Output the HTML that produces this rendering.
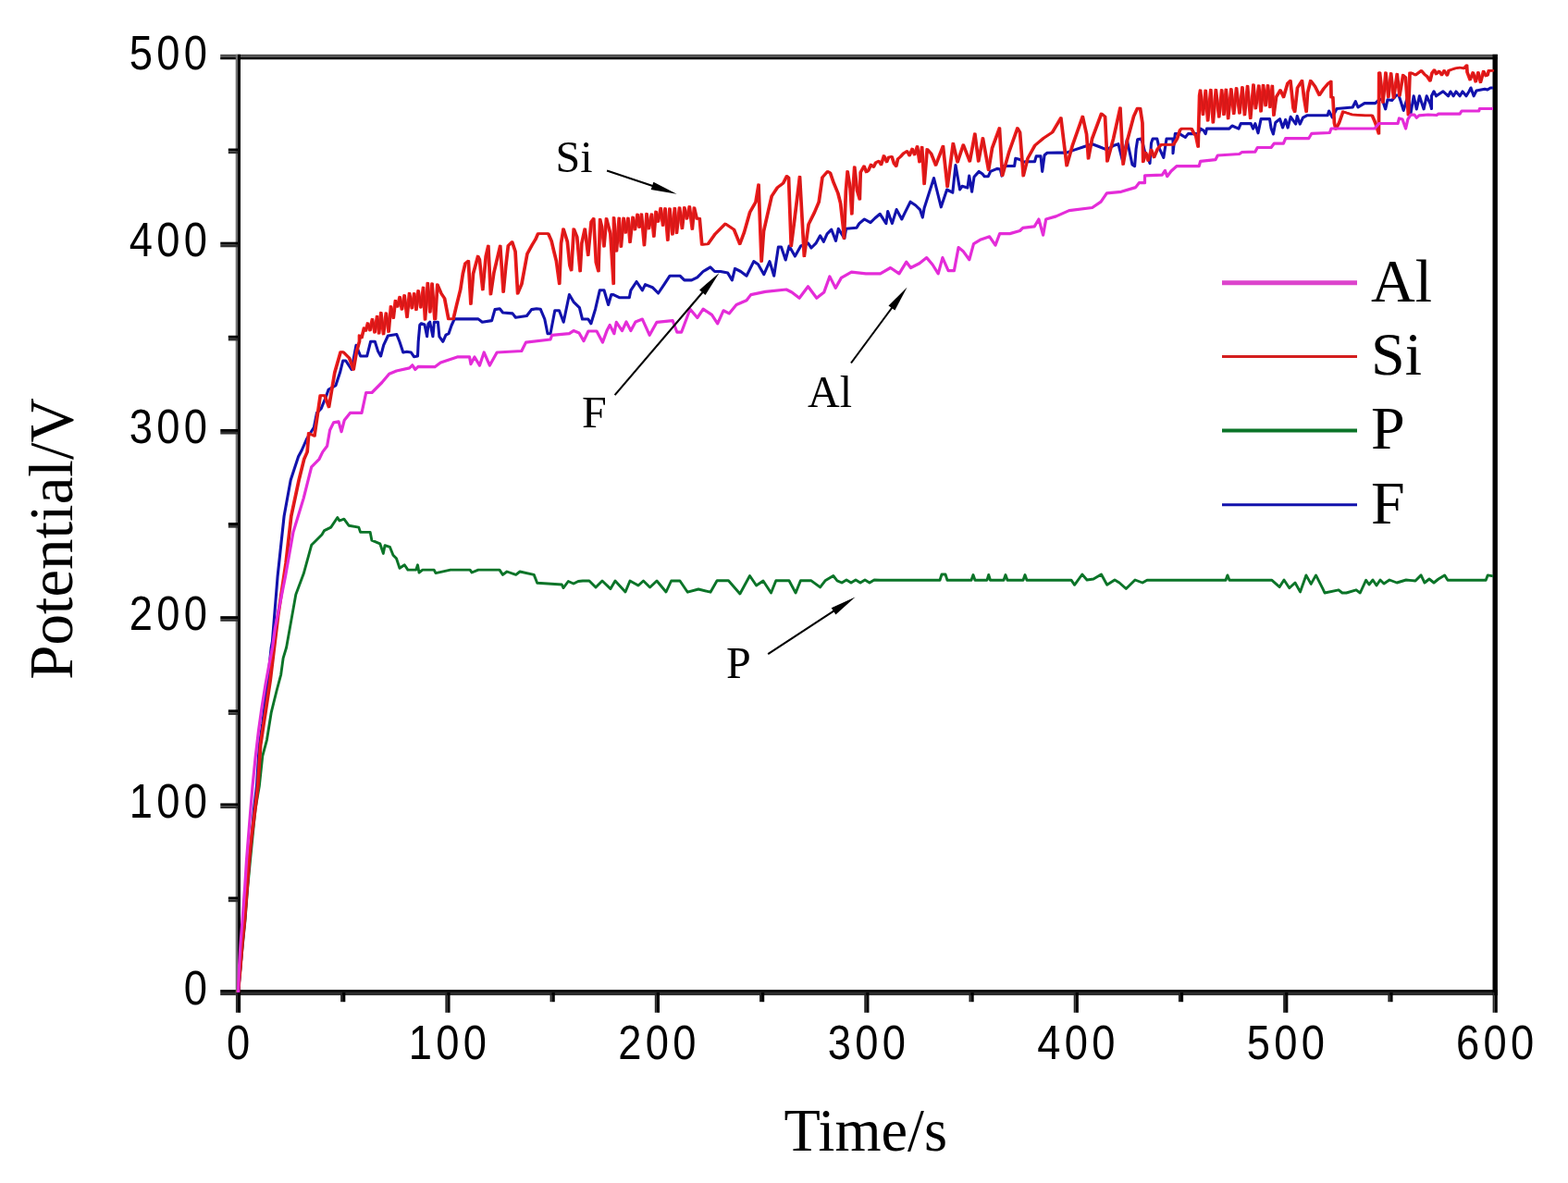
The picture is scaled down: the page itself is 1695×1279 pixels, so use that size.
<!DOCTYPE html>
<html><head><meta charset="utf-8"><title>Potential vs Time</title>
<style>
html,body{margin:0;padding:0;background:#fff;}
body{width:1695px;height:1279px;overflow:hidden;}
svg{display:block;position:absolute;left:0;top:0;}
</style></head><body>
<svg width="1695" height="1279" viewBox="0 0 1695 1279"><rect x="238.20" y="58.80" width="1380.70" height="2.90" fill="#505050"/><rect x="238.20" y="61.70" width="1380.70" height="2.60" fill="#000"/><rect x="238.20" y="1070.10" width="1380.70" height="2.80" fill="#000"/><rect x="238.20" y="1072.90" width="1380.70" height="3.20" fill="#2c2c2c"/><rect x="254.70" y="58.80" width="2.35" height="1017.30" fill="#707070"/><rect x="257.05" y="58.80" width="2.95" height="1017.30" fill="#000"/><rect x="1613.50" y="58.80" width="5.40" height="1017.30" fill="#000"/><rect x="246.80" y="969.57" width="10.25" height="3.00" fill="#000"/><rect x="246.80" y="972.57" width="10.25" height="2.60" fill="#303030"/><rect x="238.30" y="868.44" width="18.75" height="3.00" fill="#000"/><rect x="238.30" y="871.44" width="18.75" height="2.60" fill="#303030"/><rect x="246.80" y="767.31" width="10.25" height="3.00" fill="#000"/><rect x="246.80" y="770.31" width="10.25" height="2.60" fill="#303030"/><rect x="238.30" y="666.18" width="18.75" height="3.00" fill="#000"/><rect x="238.30" y="669.18" width="18.75" height="2.60" fill="#303030"/><rect x="246.80" y="565.05" width="10.25" height="3.00" fill="#000"/><rect x="246.80" y="568.05" width="10.25" height="2.60" fill="#303030"/><rect x="238.30" y="463.92" width="18.75" height="3.00" fill="#000"/><rect x="238.30" y="466.92" width="18.75" height="2.60" fill="#303030"/><rect x="246.80" y="362.79" width="10.25" height="3.00" fill="#000"/><rect x="246.80" y="365.79" width="10.25" height="2.60" fill="#303030"/><rect x="238.30" y="261.66" width="18.75" height="3.00" fill="#000"/><rect x="238.30" y="264.66" width="18.75" height="2.60" fill="#303030"/><rect x="246.80" y="160.53" width="10.25" height="3.00" fill="#000"/><rect x="246.80" y="163.53" width="10.25" height="2.60" fill="#303030"/><rect x="254.90" y="1072.90" width="2.00" height="21.90" fill="#262626"/><rect x="256.90" y="1072.90" width="3.20" height="21.90" fill="#000"/><rect x="368.12" y="1072.90" width="2.00" height="10.30" fill="#262626"/><rect x="370.12" y="1072.90" width="3.20" height="10.30" fill="#000"/><rect x="481.35" y="1072.90" width="2.00" height="21.90" fill="#262626"/><rect x="483.35" y="1072.90" width="3.20" height="21.90" fill="#000"/><rect x="594.57" y="1072.90" width="2.00" height="10.30" fill="#262626"/><rect x="596.57" y="1072.90" width="3.20" height="10.30" fill="#000"/><rect x="707.80" y="1072.90" width="2.00" height="21.90" fill="#262626"/><rect x="709.80" y="1072.90" width="3.20" height="21.90" fill="#000"/><rect x="821.02" y="1072.90" width="2.00" height="10.30" fill="#262626"/><rect x="823.02" y="1072.90" width="3.20" height="10.30" fill="#000"/><rect x="934.25" y="1072.90" width="2.00" height="21.90" fill="#262626"/><rect x="936.25" y="1072.90" width="3.20" height="21.90" fill="#000"/><rect x="1047.48" y="1072.90" width="2.00" height="10.30" fill="#262626"/><rect x="1049.48" y="1072.90" width="3.20" height="10.30" fill="#000"/><rect x="1160.70" y="1072.90" width="2.00" height="21.90" fill="#262626"/><rect x="1162.70" y="1072.90" width="3.20" height="21.90" fill="#000"/><rect x="1273.93" y="1072.90" width="2.00" height="10.30" fill="#262626"/><rect x="1275.93" y="1072.90" width="3.20" height="10.30" fill="#000"/><rect x="1387.15" y="1072.90" width="2.00" height="21.90" fill="#262626"/><rect x="1389.15" y="1072.90" width="3.20" height="21.90" fill="#000"/><rect x="1500.38" y="1072.90" width="2.00" height="10.30" fill="#262626"/><rect x="1502.38" y="1072.90" width="3.20" height="10.30" fill="#000"/><rect x="1613.60" y="1072.90" width="2.00" height="21.90" fill="#262626"/><rect x="1615.60" y="1072.90" width="3.20" height="21.90" fill="#000"/>
<path d="M257.5 1073.0 L260.0 1045.0 L262.5 1020.0 L265.0 995.0 L267.5 962.0 L270.5 930.0 L273.0 905.0 L276.0 875.0 L280.3 850.0 L283.8 817.4 L288.5 799.8 L293.2 770.4 L299.0 747.0 L303.7 729.3 L306.1 711.7 L309.6 700.0 L319.8 642.8 L328.2 620.3 L336.7 589.3 L340.0 586.0 L348.0 578.0 L350.6 573.6 L357.7 570.1 L364.8 559.5 L367.0 563.0 L371.9 561.2 L377.2 568.3 L387.8 570.1 L389.6 575.4 L400.2 575.4 L401.9 584.2 L410.8 587.8 L414.3 598.4 L416.1 589.6 L421.4 591.3 L425.0 600.2 L428.5 603.7 L432.0 614.3 L437.3 610.8 L440.9 616.1 L449.7 616.1 L451.5 610.8 L453.0 619.0 L456.8 616.1 L469.2 616.1 L471.0 619.6 L486.9 616.1 L508.1 616.1 L510.0 619.0 L517.0 616.1 L540.0 616.1 L543.5 621.4 L548.0 618.0 L557.7 621.4 L562.0 618.0 L577.2 621.4 L580.7 630.3 L607.3 632.0 L609.0 635.6 L614.3 628.5 L620.0 631.0 L625.0 628.5 L630.0 628.0 L637.0 628.0 L644.0 635.0 L651.0 628.0 L660.0 636.6 L665.0 628.0 L676.0 640.0 L681.0 628.0 L690.0 633.0 L695.5 628.0 L702.6 635.0 L710.0 628.0 L720.0 640.0 L725.6 628.0 L735.0 628.0 L743.3 640.2 L755.0 637.0 L768.0 640.2 L775.1 627.8 L787.5 627.8 L799.9 642.0 L810.5 622.5 L817.6 633.0 L825.0 628.0 L833.5 641.0 L838.8 627.8 L853.0 627.8 L860.1 641.0 L865.4 627.8 L877.0 627.8 L886.6 634.9 L892.0 627.8 L900.8 622.5 L905.0 627.8 L910.0 630.0 L915.0 627.0 L920.0 630.0 L925.0 627.0 L930.0 630.0 L935.0 627.0 L940.0 630.0 L945.0 627.0 L951.6 627.2 L1016.0 627.2 L1018.0 621.0 L1022.0 621.0 L1024.0 627.2 L1050.0 627.2 L1052.0 621.5 L1054.0 627.2 L1067.0 627.2 L1068.7 621.5 L1070.5 627.2 L1085.0 627.2 L1087.0 621.5 L1089.0 627.2 L1106.0 627.2 L1108.0 621.5 L1110.0 627.2 L1158.0 627.2 L1161.6 632.3 L1169.8 621.0 L1175.0 627.0 L1182.0 626.0 L1190.5 621.0 L1196.7 632.3 L1205.0 627.0 L1210.0 630.0 L1217.3 636.5 L1227.0 627.0 L1235.0 630.0 L1240.0 627.2 L1325.0 627.2 L1326.9 621.9 L1329.0 627.2 L1374.7 627.2 L1383.2 634.6 L1388.0 627.0 L1393.8 635.7 L1400.0 630.0 L1405.5 639.9 L1411.9 621.9 L1417.2 631.4 L1422.5 621.9 L1430.0 636.7 L1432.0 641.0 L1447.0 637.8 L1451.0 641.0 L1455.4 641.0 L1466.0 637.8 L1470.3 641.0 L1476.7 627.2 L1480.0 632.0 L1484.0 627.0 L1488.0 633.0 L1492.0 627.0 L1496.0 631.0 L1502.0 627.0 L1510.0 630.0 L1520.0 627.0 L1530.0 628.0 L1536.1 621.9 L1540.0 630.0 L1545.0 626.0 L1550.0 630.0 L1555.0 626.0 L1561.6 621.9 L1565.0 627.2 L1606.2 627.2 L1608.3 621.9 L1614.0 622.9" fill="none" stroke="#0b7428" stroke-width="2.9" stroke-linejoin="round"/>
<path d="M257.5 1073.0 L260.0 1045.0 L262.0 1020.0 L264.5 995.0 L267.0 962.0 L269.5 930.0 L272.0 905.0 L274.5 875.0 L277.5 850.0 L280.3 805.6 L283.8 782.2 L287.3 752.8 L290.2 729.3 L293.2 700.0 L294.4 693.5 L300.1 623.0 L307.1 558.0 L314.2 519.0 L322.6 493.5 L326.1 487.0 L331.6 474.5 L339.4 462.0 L342.5 446.4 L347.2 441.7 L352.0 430.0 L355.0 421.4 L362.9 416.7 L367.6 402.6 L370.7 390.0 L373.8 390.0 L380.0 399.5 L385.0 373.2 L389.7 385.0 L396.7 385.0 L400.6 369.3 L405.3 369.3 L408.5 379.4 L411.6 385.0 L414.7 373.2 L419.4 363.0 L428.8 361.5 L431.9 369.3 L435.8 381.0 L439.7 380.2 L444.4 381.0 L447.5 385.7 L451.5 385.0 L452.2 369.3 L453.8 351.3 L455.4 349.7 L459.0 351.0 L461.6 363.8 L463.0 350.0 L464.7 348.2 L467.9 363.8 L469.4 348.2 L473.4 348.2 L474.9 363.8 L478.8 369.3 L482.0 362.2 L485.0 360.7 L488.0 352.0 L491.2 344.9 L500.6 344.9 L517.0 344.9 L521.3 348.3 L531.6 346.6 L535.0 334.6 L540.2 333.7 L543.6 338.0 L554.0 338.9 L557.4 343.2 L569.4 341.5 L574.6 334.6 L580.0 333.7 L584.2 334.2 L588.8 345.0 L592.0 360.7 L595.0 360.7 L599.8 335.7 L604.5 335.7 L609.2 348.2 L615.4 318.5 L620.0 326.3 L626.4 332.6 L629.5 345.0 L635.8 345.0 L638.9 349.8 L643.6 334.2 L648.3 313.8 L653.0 313.8 L657.6 329.5 L660.8 318.5 L663.1 318.6 L669.4 321.7 L680.3 321.7 L681.9 313.9 L688.1 304.5 L694.4 313.9 L697.5 307.6 L705.3 310.7 L711.6 317.0 L717.9 307.6 L724.1 298.2 L735.0 298.2 L739.8 302.9 L747.6 302.9 L753.8 299.8 L760.1 293.5 L767.9 288.8 L772.6 293.5 L778.8 293.5 L786.7 295.1 L791.4 302.9 L794.5 290.4 L800.7 293.5 L807.0 298.2 L814.8 282.6 L819.5 285.7 L825.8 296.7 L832.0 282.6 L836.7 298.2 L841.4 267.0 L844.5 267.0 L849.2 281.0 L853.1 266.0 L859.4 277.0 L865.6 266.0 L873.5 262.9 L877.0 268.0 L881.9 263.2 L886.6 254.8 L890.3 261.3 L894.1 252.9 L898.8 248.2 L903.5 260.4 L906.3 247.3 L912.8 257.6 L914.7 247.3 L926.0 246.3 L928.8 241.6 L934.4 237.0 L941.0 240.7 L945.7 236.0 L951.3 231.3 L957.9 241.6 L959.7 228.5 L964.4 241.6 L969.1 226.6 L974.8 237.0 L978.5 229.4 L984.1 218.2 L989.8 222.0 L994.5 226.6 L997.3 235.1 L999.1 225.0 L1009.5 192.5 L1017.3 223.8 L1023.6 205.0 L1029.8 208.2 L1033.0 178.5 L1037.6 205.0 L1040.0 201.3 L1045.9 203.1 L1047.7 190.1 L1050.6 207.2 L1053.0 191.3 L1058.3 185.4 L1062.0 188.0 L1064.2 190.7 L1068.3 190.7 L1070.7 185.4 L1077.8 182.4 L1081.3 183.0 L1083.0 190.1 L1084.8 179.5 L1096.6 179.5 L1097.8 171.2 L1102.5 172.4 L1106.1 175.4 L1108.4 174.8 L1118.5 174.8 L1120.2 168.9 L1125.0 168.9 L1126.7 185.4 L1129.1 167.7 L1132.0 165.3 L1143.2 165.1 L1152.6 165.1 L1162.0 161.9 L1171.4 158.8 L1180.7 155.7 L1188.6 158.8 L1196.4 161.9 L1204.2 157.2 L1208.9 155.7 L1213.6 174.4 L1218.3 151.0 L1224.0 178.0 L1226.6 179.7 L1228.1 161.0 L1229.7 150.8 L1233.6 150.0 L1235.2 154.7 L1237.5 164.1 L1240.0 168.0 L1243.0 176.6 L1244.5 154.7 L1246.1 150.0 L1250.8 150.0 L1253.1 160.2 L1257.8 170.4 L1261.0 150.0 L1268.0 150.0 L1268.0 165.7 L1270.3 144.6 L1275.0 144.6 L1281.3 148.5 L1284.4 144.6 L1295.4 144.6 L1297.7 139.1 L1301.0 141.0 L1303.2 144.6 L1304.5 139.1 L1328.8 139.1 L1331.9 136.0 L1339.0 139.1 L1341.3 133.6 L1352.2 133.6 L1354.6 139.1 L1356.9 133.6 L1360.0 143.8 L1363.1 128.6 L1372.5 128.6 L1374.1 138.8 L1376.4 145.0 L1378.8 132.5 L1383.5 128.6 L1386.6 138.0 L1389.7 129.4 L1392.1 138.0 L1395.2 126.3 L1400.7 134.1 L1402.2 125.5 L1405.3 134.1 L1408.5 127.1 L1413.2 124.7 L1435.1 124.7 L1436.6 120.0 L1440.3 126.9 L1445.0 117.5 L1462.2 116.0 L1465.3 109.7 L1468.0 116.0 L1475.0 111.6 L1486.7 111.6 L1489.9 108.5 L1494.0 107.0 L1497.7 117.9 L1500.0 107.7 L1504.7 108.5 L1509.4 103.0 L1512.0 103.0 L1514.1 109.3 L1517.2 119.4 L1521.9 103.8 L1525.0 122.5 L1528.2 103.8 L1531.3 117.9 L1534.4 103.8 L1539.1 117.9 L1542.2 103.8 L1546.0 112.0 L1547.5 117.5 L1547.5 103.8 L1550.0 98.8 L1552.5 103.8 L1560.0 98.8 L1565.6 103.8 L1568.0 99.0 L1571.2 103.8 L1574.0 99.0 L1578.1 103.8 L1581.0 99.0 L1585.0 103.8 L1588.1 98.8 L1590.0 95.0 L1593.1 103.8 L1596.0 98.0 L1605.0 96.2 L1608.0 97.0 L1611.2 95.0 L1614.0 95.0" fill="none" stroke="#1212ac" stroke-width="3.1" stroke-linejoin="round"/>
<path d="M256.9 1073.0 L259.4 1045.0 L261.4 1020.0 L263.9 995.0 L266.4 962.0 L268.9 930.0 L271.4 905.0 L275.3 875.0 L278.3 850.0 L281.1 805.6 L284.6 782.2 L286.5 770.0 L291.6 735.8 L291.6 735.8 L300.1 665.4 L308.5 609.0 L314.2 558.3 L322.6 518.9 L328.2 496.3 L331.6 488.6 L333.2 468.3 L339.4 471.4 L345.7 427.6 L350.4 427.6 L355.0 440.0 L361.3 402.6 L367.6 380.7 L370.7 380.7 L377.0 387.0 L381.6 399.5 L384.8 380.7 L388.0 369.0 L388.0 362.7 L390.4 365.2 L393.0 354.5 L394.9 357.5 L397.0 349.5 L399.4 357.2 L401.9 345.2 L404.5 359.4 L407.1 342.0 L409.1 360.3 L411.3 338.1 L414.0 361.2 L416.8 338.6 L419.6 358.7 L422.0 331.4 L424.7 343.8 L426.9 325.1 L429.2 331.5 L431.6 321.1 L433.9 334.5 L436.6 319.4 L439.5 342.8 L442.0 317.1 L444.8 333.2 L447.2 317.3 L449.4 334.8 L451.6 314.4 L454.3 332.3 L457.0 310.9 L459.0 345.4 L461.8 306.0 L464.3 337.3 L466.5 306.6 L469.4 345.1 L470.0 345.0 L472.3 307.6 L476.3 317.0 L480.0 322.5 L484.3 344.9 L489.5 344.9 L493.0 330.0 L497.2 313.1 L499.8 295.9 L502.4 284.7 L505.8 282.1 L508.4 328.6 L511.0 295.9 L516.1 277.0 L517.8 280.4 L521.3 313.1 L524.7 277.0 L527.3 265.8 L529.9 318.2 L533.3 295.0 L540.2 265.8 L543.6 315.7 L546.2 288.2 L548.8 265.8 L553.1 261.5 L556.5 271.8 L559.1 317.4 L563.4 307.1 L569.4 274.4 L574.6 264.9 L578.4 258.7 L581.0 252.7 L592.2 252.7 L595.6 260.4 L598.2 271.6 L600.8 281.9 L604.2 306.8 L606.0 263.0 L608.5 247.5 L612.8 261.3 L615.4 287.1 L617.1 292.2 L619.7 247.5 L623.2 256.1 L626.6 293.1 L628.3 263.0 L631.7 247.5 L635.2 275.9 L638.6 239.8 L641.2 236.3 L643.8 283.6 L646.4 293.1 L648.1 237.2 L650.0 245.0 L652.4 266.4 L655.0 236.3 L659.3 252.7 L662.7 306.8 L663.0 235.4 L665.9 271.4 L668.7 235.8 L670.8 266.6 L673.6 235.8 L675.8 251.5 L678.4 235.9 L680.5 261.8 L683.5 234.9 L685.8 248.2 L688.5 231.9 L690.6 245.7 L692.9 231.6 L695.9 265.2 L698.5 231.1 L700.8 247.2 L703.9 231.5 L706.3 255.6 L708.5 228.8 L710.9 239.6 L713.7 225.1 L716.1 243.7 L718.5 225.4 L721.3 259.6 L723.4 225.7 L726.4 253.4 L728.8 225.0 L730.9 251.9 L734.0 224.5 L736.9 247.0 L739.3 224.4 L741.9 236.4 L744.8 223.4 L747.8 247.6 L749.9 224.6 L752.7 236.4 L755.7 236.1 L758.2 264.3 L764.8 263.8 L772.6 252.9 L783.5 241.9 L792.9 248.2 L799.2 263.8 L803.9 251.3 L810.1 229.4 L816.4 218.5 L819.5 199.7 L822.6 282.6 L825.0 250.0 L833.6 212.2 L839.8 202.8 L846.1 198.1 L850.0 190.3 L852.0 192.0 L854.7 266.0 L858.0 240.0 L864.0 191.0 L868.8 277.0 L873.5 242.6 L880.0 229.4 L884.7 218.2 L888.4 191.9 L894.1 185.3 L897.0 187.0 L900.6 197.5 L905.3 208.8 L908.1 220.0 L911.0 246.3 L911.9 257.6 L913.8 206.9 L915.6 185.3 L918.5 203.2 L920.3 231.3 L921.5 205.0 L923.2 180.6 L926.0 206.0 L928.8 215.4 L929.7 186.3 L933.5 179.7 L936.0 186.0 L938.2 184.4 L941.0 178.0 L943.8 180.6 L946.0 176.0 L949.4 174.1 L952.0 178.0 L955.0 168.5 L958.0 175.0 L960.0 170.0 L963.5 169.4 L966.0 177.0 L968.2 179.7 L970.0 172.0 L972.9 169.4 L976.0 166.0 L979.4 163.8 L980.0 163.4 L982.6 168.2 L985.6 161.0 L988.1 167.2 L991.0 158.3 L993.5 175.2 L996.1 159.0 L998.6 198.8 L1001.7 161.3 L1006.0 166.0 L1011.0 178.5 L1018.9 158.1 L1023.6 201.9 L1029.8 155.0 L1034.5 175.3 L1040.8 156.6 L1047.8 174.4 L1053.3 144.7 L1057.2 174.4 L1061.9 149.4 L1068.1 183.8 L1072.0 160.0 L1079.9 138.5 L1083.0 190.0 L1090.0 165.0 L1099.4 138.5 L1102.0 143.0 L1105.7 190.1 L1110.4 171.3 L1118.2 157.2 L1127.6 149.4 L1137.0 143.2 L1146.3 127.5 L1152.6 179.1 L1158.8 157.2 L1169.8 126.0 L1174.0 145.0 L1176.0 171.3 L1180.0 150.0 L1190.1 122.8 L1194.0 126.0 L1196.4 174.4 L1203.0 150.0 L1210.4 116.6 L1213.6 177.6 L1218.0 152.0 L1225.0 125.8 L1228.9 117.2 L1232.0 117.2 L1234.4 132.8 L1235.2 175.0 L1238.0 165.0 L1240.6 173.5 L1244.0 162.0 L1247.0 170.0 L1250.8 161.0 L1254.7 156.3 L1268.0 156.3 L1272.0 150.0 L1275.0 140.7 L1276.6 139.1 L1287.5 139.1 L1289.9 143.8 L1292.2 146.9 L1294.6 158.6 L1296.1 103.1 L1297.0 97.7 L1299.9 123.9 L1302.7 97.9 L1305.1 130.3 L1308.3 97.2 L1310.8 132.3 L1313.8 97.2 L1317.2 126.3 L1320.1 97.3 L1322.4 124.0 L1324.8 96.8 L1327.1 128.1 L1330.3 96.4 L1333.2 122.8 L1336.0 95.3 L1339.4 122.4 L1342.4 94.3 L1344.9 124.2 L1348.0 93.1 L1351.2 128.0 L1354.4 91.7 L1356.8 117.2 L1360.2 92.7 L1362.5 120.3 L1365.0 92.2 L1367.6 114.2 L1370.0 92.4 L1372.4 115.8 L1374.8 92.9 L1376.4 124.7 L1379.0 105.0 L1383.5 97.4 L1387.0 105.0 L1391.3 90.3 L1394.4 87.2 L1397.5 116.9 L1399.1 120.8 L1402.0 95.0 L1406.9 87.2 L1409.0 105.0 L1411.6 120.8 L1413.0 100.0 L1416.3 87.2 L1421.0 93.5 L1425.7 102.8 L1430.4 95.8 L1435.1 90.3 L1438.2 88.0 L1438.5 105.2 L1440.3 105.0 L1441.9 133.2 L1443.5 139.4 L1447.0 133.0 L1451.3 120.7 L1460.7 123.8 L1475.0 124.9 L1482.8 124.9 L1485.2 130.4 L1486.7 134.3 L1489.9 144.4 L1490.2 78.8 L1491.0 78.6 L1494.5 110.6 L1497.4 78.7 L1500.3 105.0 L1503.1 79.4 L1506.0 105.8 L1509.7 80.1 L1512.4 103.4 L1516.2 81.2 L1518.8 83.5 L1521.9 124.1 L1523.5 78.8 L1525.0 78.8 L1529.7 81.1 L1536.0 76.4 L1539.0 80.0 L1542.2 82.7 L1545.4 87.4 L1547.5 78.8 L1550.0 75.6 L1552.0 80.0 L1555.0 77.0 L1558.0 81.0 L1560.6 76.3 L1563.8 81.3 L1565.6 76.3 L1573.1 73.8 L1578.0 73.0 L1582.0 74.0 L1585.0 70.6 L1585.5 78.1 L1588.6 86.2 L1591.7 78.4 L1594.7 88.3 L1597.4 78.4 L1599.9 88.9 L1603.1 77.1 L1605.8 82.0 L1607.5 81.3 L1608.8 76.3 L1613.8 76.3" fill="none" stroke="#f41c1c" stroke-width="2.7" stroke-linejoin="round"/>
<path transform="translate(1.3 0)" d="M256.9 1073.0 L259.4 1045.0 L261.4 1020.0 L263.9 995.0 L266.4 962.0 L268.9 930.0 L271.4 905.0 L275.3 875.0 L278.3 850.0 L281.1 805.6 L284.6 782.2 L286.5 770.0 L291.6 735.8 L291.6 735.8 L300.1 665.4 L308.5 609.0 L314.2 558.3 L322.6 518.9 L328.2 496.3 L331.6 488.6 L333.2 468.3 L339.4 471.4 L345.7 427.6 L350.4 427.6 L355.0 440.0 L361.3 402.6 L367.6 380.7 L370.7 380.7 L377.0 387.0 L381.6 399.5 L384.8 380.7 L388.0 369.0 L388.0 362.7 L390.4 365.2 L393.0 354.5 L394.9 357.5 L397.0 349.5 L399.4 357.2 L401.9 345.2 L404.5 359.4 L407.1 342.0 L409.1 360.3 L411.3 338.1 L414.0 361.2 L416.8 338.6 L419.6 358.7 L422.0 331.4 L424.7 343.8 L426.9 325.1 L429.2 331.5 L431.6 321.1 L433.9 334.5 L436.6 319.4 L439.5 342.8 L442.0 317.1 L444.8 333.2 L447.2 317.3 L449.4 334.8 L451.6 314.4 L454.3 332.3 L457.0 310.9 L459.0 345.4 L461.8 306.0 L464.3 337.3 L466.5 306.6 L469.4 345.1 L470.0 345.0 L472.3 307.6 L476.3 317.0 L480.0 322.5 L484.3 344.9 L489.5 344.9 L493.0 330.0 L497.2 313.1 L499.8 295.9 L502.4 284.7 L505.8 282.1 L508.4 328.6 L511.0 295.9 L516.1 277.0 L517.8 280.4 L521.3 313.1 L524.7 277.0 L527.3 265.8 L529.9 318.2 L533.3 295.0 L540.2 265.8 L543.6 315.7 L546.2 288.2 L548.8 265.8 L553.1 261.5 L556.5 271.8 L559.1 317.4 L563.4 307.1 L569.4 274.4 L574.6 264.9 L578.4 258.7 L581.0 252.7 L592.2 252.7 L595.6 260.4 L598.2 271.6 L600.8 281.9 L604.2 306.8 L606.0 263.0 L608.5 247.5 L612.8 261.3 L615.4 287.1 L617.1 292.2 L619.7 247.5 L623.2 256.1 L626.6 293.1 L628.3 263.0 L631.7 247.5 L635.2 275.9 L638.6 239.8 L641.2 236.3 L643.8 283.6 L646.4 293.1 L648.1 237.2 L650.0 245.0 L652.4 266.4 L655.0 236.3 L659.3 252.7 L662.7 306.8 L663.0 235.4 L665.9 271.4 L668.7 235.8 L670.8 266.6 L673.6 235.8 L675.8 251.5 L678.4 235.9 L680.5 261.8 L683.5 234.9 L685.8 248.2 L688.5 231.9 L690.6 245.7 L692.9 231.6 L695.9 265.2 L698.5 231.1 L700.8 247.2 L703.9 231.5 L706.3 255.6 L708.5 228.8 L710.9 239.6 L713.7 225.1 L716.1 243.7 L718.5 225.4 L721.3 259.6 L723.4 225.7 L726.4 253.4 L728.8 225.0 L730.9 251.9 L734.0 224.5 L736.9 247.0 L739.3 224.4 L741.9 236.4 L744.8 223.4 L747.8 247.6 L749.9 224.6 L752.7 236.4 L755.7 236.1 L758.2 264.3 L764.8 263.8 L772.6 252.9 L783.5 241.9 L792.9 248.2 L799.2 263.8 L803.9 251.3 L810.1 229.4 L816.4 218.5 L819.5 199.7 L822.6 282.6 L825.0 250.0 L833.6 212.2 L839.8 202.8 L846.1 198.1 L850.0 190.3 L852.0 192.0 L854.7 266.0 L858.0 240.0 L864.0 191.0 L868.8 277.0 L873.5 242.6 L880.0 229.4 L884.7 218.2 L888.4 191.9 L894.1 185.3 L897.0 187.0 L900.6 197.5 L905.3 208.8 L908.1 220.0 L911.0 246.3 L911.9 257.6 L913.8 206.9 L915.6 185.3 L918.5 203.2 L920.3 231.3 L921.5 205.0 L923.2 180.6 L926.0 206.0 L928.8 215.4 L929.7 186.3 L933.5 179.7 L936.0 186.0 L938.2 184.4 L941.0 178.0 L943.8 180.6 L946.0 176.0 L949.4 174.1 L952.0 178.0 L955.0 168.5 L958.0 175.0 L960.0 170.0 L963.5 169.4 L966.0 177.0 L968.2 179.7 L970.0 172.0 L972.9 169.4 L976.0 166.0 L979.4 163.8 L980.0 163.4 L982.6 168.2 L985.6 161.0 L988.1 167.2 L991.0 158.3 L993.5 175.2 L996.1 159.0 L998.6 198.8 L1001.7 161.3 L1006.0 166.0 L1011.0 178.5 L1018.9 158.1 L1023.6 201.9 L1029.8 155.0 L1034.5 175.3 L1040.8 156.6 L1047.8 174.4 L1053.3 144.7 L1057.2 174.4 L1061.9 149.4 L1068.1 183.8 L1072.0 160.0 L1079.9 138.5 L1083.0 190.0 L1090.0 165.0 L1099.4 138.5 L1102.0 143.0 L1105.7 190.1 L1110.4 171.3 L1118.2 157.2 L1127.6 149.4 L1137.0 143.2 L1146.3 127.5 L1152.6 179.1 L1158.8 157.2 L1169.8 126.0 L1174.0 145.0 L1176.0 171.3 L1180.0 150.0 L1190.1 122.8 L1194.0 126.0 L1196.4 174.4 L1203.0 150.0 L1210.4 116.6 L1213.6 177.6 L1218.0 152.0 L1225.0 125.8 L1228.9 117.2 L1232.0 117.2 L1234.4 132.8 L1235.2 175.0 L1238.0 165.0 L1240.6 173.5 L1244.0 162.0 L1247.0 170.0 L1250.8 161.0 L1254.7 156.3 L1268.0 156.3 L1272.0 150.0 L1275.0 140.7 L1276.6 139.1 L1287.5 139.1 L1289.9 143.8 L1292.2 146.9 L1294.6 158.6 L1296.1 103.1 L1297.0 97.7 L1299.9 123.9 L1302.7 97.9 L1305.1 130.3 L1308.3 97.2 L1310.8 132.3 L1313.8 97.2 L1317.2 126.3 L1320.1 97.3 L1322.4 124.0 L1324.8 96.8 L1327.1 128.1 L1330.3 96.4 L1333.2 122.8 L1336.0 95.3 L1339.4 122.4 L1342.4 94.3 L1344.9 124.2 L1348.0 93.1 L1351.2 128.0 L1354.4 91.7 L1356.8 117.2 L1360.2 92.7 L1362.5 120.3 L1365.0 92.2 L1367.6 114.2 L1370.0 92.4 L1372.4 115.8 L1374.8 92.9 L1376.4 124.7 L1379.0 105.0 L1383.5 97.4 L1387.0 105.0 L1391.3 90.3 L1394.4 87.2 L1397.5 116.9 L1399.1 120.8 L1402.0 95.0 L1406.9 87.2 L1409.0 105.0 L1411.6 120.8 L1413.0 100.0 L1416.3 87.2 L1421.0 93.5 L1425.7 102.8 L1430.4 95.8 L1435.1 90.3 L1438.2 88.0 L1438.5 105.2 L1440.3 105.0 L1441.9 133.2 L1443.5 139.4 L1447.0 133.0 L1451.3 120.7 L1460.7 123.8 L1475.0 124.9 L1482.8 124.9 L1485.2 130.4 L1486.7 134.3 L1489.9 144.4 L1490.2 78.8 L1491.0 78.6 L1494.5 110.6 L1497.4 78.7 L1500.3 105.0 L1503.1 79.4 L1506.0 105.8 L1509.7 80.1 L1512.4 103.4 L1516.2 81.2 L1518.8 83.5 L1521.9 124.1 L1523.5 78.8 L1525.0 78.8 L1529.7 81.1 L1536.0 76.4 L1539.0 80.0 L1542.2 82.7 L1545.4 87.4 L1547.5 78.8 L1550.0 75.6 L1552.0 80.0 L1555.0 77.0 L1558.0 81.0 L1560.6 76.3 L1563.8 81.3 L1565.6 76.3 L1573.1 73.8 L1578.0 73.0 L1582.0 74.0 L1585.0 70.6 L1585.5 78.1 L1588.6 86.2 L1591.7 78.4 L1594.7 88.3 L1597.4 78.4 L1599.9 88.9 L1603.1 77.1 L1605.8 82.0 L1607.5 81.3 L1608.8 76.3 L1613.8 76.3" fill="none" stroke="#d81818" stroke-width="2.2" stroke-linejoin="round"/>
<path d="M257.5 1073.0 L258.5 1045.0 L260.0 1020.0 L262.0 995.0 L264.5 962.0 L266.5 930.0 L268.5 905.0 L270.5 880.0 L273.0 850.0 L276.0 820.0 L279.5 790.0 L283.0 765.0 L287.0 740.0 L291.0 718.0 L294.5 700.0 L297.3 679.4 L308.5 623.1 L317.0 575.2 L328.2 538.6 L336.7 504.8 L345.1 496.3 L348.8 488.6 L353.6 482.3 L356.6 465.0 L360.6 456.9 L366.0 455.8 L369.1 466.7 L372.3 454.2 L378.5 446.4 L391.0 446.4 L395.7 424.5 L402.0 424.5 L412.9 413.5 L420.7 404.2 L428.6 401.0 L442.6 397.9 L445.8 394.8 L448.9 399.5 L452.0 396.3 L470.0 396.7 L476.3 392.0 L495.0 385.8 L507.5 385.8 L509.0 393.6 L513.0 386.0 L518.5 395.1 L523.2 381.0 L529.4 395.1 L537.2 381.0 L563.8 379.5 L568.5 370.1 L595.0 367.0 L596.7 362.3 L615.4 360.7 L620.0 357.6 L626.0 360.0 L631.0 368.6 L636.0 358.0 L645.0 358.0 L651.4 370.1 L656.0 357.6 L659.2 351.4 L663.9 360.7 L666.3 348.3 L672.5 357.6 L677.0 348.0 L681.9 357.6 L687.0 348.0 L694.4 345.1 L702.2 362.3 L710.0 348.3 L727.2 346.7 L731.9 359.2 L736.6 359.2 L746.0 334.2 L753.8 343.6 L760.1 334.2 L769.5 340.4 L775.7 349.8 L782.0 335.8 L788.2 338.9 L796.0 329.5 L807.0 324.8 L811.7 318.6 L827.3 315.4 L850.0 313.0 L856.0 316.0 L864.1 322.3 L873.5 309.8 L882.8 322.3 L890.7 316.1 L896.9 298.9 L903.2 311.4 L909.4 300.4 L920.4 294.2 L936.0 295.8 L951.6 295.8 L962.6 289.5 L972.0 295.8 L979.8 283.2 L984.5 289.5 L993.9 284.8 L1001.7 278.6 L1008.0 286.0 L1014.2 295.8 L1018.9 278.6 L1025.1 292.6 L1031.4 292.6 L1036.1 267.6 L1041.0 271.4 L1047.8 280.8 L1052.5 263.6 L1060.3 258.9 L1069.7 255.8 L1076.0 265.1 L1080.7 252.6 L1091.6 252.6 L1102.5 249.5 L1105.7 246.4 L1118.2 244.8 L1122.9 237.0 L1127.6 254.2 L1130.7 237.0 L1141.6 233.9 L1155.7 227.6 L1180.7 224.5 L1190.1 218.2 L1196.4 208.8 L1212.0 207.3 L1227.6 202.6 L1231.3 197.7 L1237.5 197.7 L1237.5 189.9 L1256.3 189.1 L1259.4 184.4 L1261.7 190.7 L1266.0 185.0 L1271.9 179.7 L1296.1 179.7 L1297.7 174.3 L1313.9 172.7 L1316.3 168.0 L1339.7 166.5 L1342.6 164.5 L1356.9 164.1 L1359.3 159.5 L1374.1 159.5 L1377.2 155.2 L1387.4 155.2 L1389.7 149.7 L1414.7 149.7 L1417.9 144.3 L1437.4 143.5 L1439.0 139.0 L1486.0 139.0 L1490.6 133.5 L1511.0 133.5 L1512.5 128.0 L1516.0 129.0 L1519.6 139.0 L1521.9 128.8 L1525.0 124.1 L1529.0 124.1 L1531.3 127.2 L1534.0 124.9 L1543.8 124.0 L1553.0 124.5 L1555.0 123.1 L1578.1 123.1 L1580.0 120.0 L1598.8 120.0 L1599.4 117.5 L1614.0 117.5" fill="none" stroke="#e42cd8" stroke-width="3.2" stroke-linejoin="round"/>
<g style="font-family:'Liberation Sans',Arial,sans-serif;font-size:51.5px"><text transform="scale(0.88 1)" x="292.61" y="1145.2" text-anchor="middle">0</text><text transform="scale(0.88 1)" x="516.42 549.94 583.47" y="1145.2" text-anchor="middle">100</text><text transform="scale(0.88 1)" x="773.75 807.27 840.80" y="1145.2" text-anchor="middle">200</text><text transform="scale(0.88 1)" x="1031.08 1064.60 1098.12" y="1145.2" text-anchor="middle">300</text><text transform="scale(0.88 1)" x="1288.41 1321.93 1355.45" y="1145.2" text-anchor="middle">400</text><text transform="scale(0.88 1)" x="1545.74 1579.26 1612.78" y="1145.2" text-anchor="middle">500</text><text transform="scale(0.88 1)" x="1803.07 1836.59 1870.11" y="1145.2" text-anchor="middle">600</text><text transform="scale(0.88 1)" x="240.23" y="1086.0" text-anchor="middle">0</text><text transform="scale(0.88 1)" x="173.18 206.70 240.23" y="883.7" text-anchor="middle">100</text><text transform="scale(0.88 1)" x="173.18 206.70 240.23" y="681.5" text-anchor="middle">200</text><text transform="scale(0.88 1)" x="173.18 206.70 240.23" y="479.2" text-anchor="middle">300</text><text transform="scale(0.88 1)" x="173.18 206.70 240.23" y="277.0" text-anchor="middle">400</text><text transform="scale(0.88 1)" x="173.18 206.70 240.23" y="74.7" text-anchor="middle">500</text></g>
<text x="847.5" y="1244.3" textLength="176.5" lengthAdjust="spacingAndGlyphs" style="font-family:'Liberation Serif','Times New Roman',serif;font-size:66px">Time/s</text>
<text transform="translate(77.8 734.8) rotate(-90)" x="0" y="0" textLength="304.6" lengthAdjust="spacingAndGlyphs" style="font-family:'Liberation Serif','Times New Roman',serif;font-size:68.5px">Potential/V</text>
<path d="M1321 305.8 H1467" stroke="#dc44cc" stroke-width="5.0"/>
<text x="1482" y="325.6" style="font-family:'Liberation Serif','Times New Roman',serif;font-size:66px">Al</text>
<path d="M1321 385.5 H1467" stroke="#d41e1e" stroke-width="3.0"/>
<text x="1482" y="405.3" style="font-family:'Liberation Serif','Times New Roman',serif;font-size:66px">Si</text>
<path d="M1321 465.5 H1467" stroke="#0b7428" stroke-width="4.0"/>
<text x="1482" y="485.3" style="font-family:'Liberation Serif','Times New Roman',serif;font-size:66px">P</text>
<path d="M1321 545.7 H1467" stroke="#1212ac" stroke-width="3.0"/>
<text x="1482" y="565.5" style="font-family:'Liberation Serif','Times New Roman',serif;font-size:66px">F</text>
<text x="600.5" y="185.8" style="font-family:'Liberation Serif','Times New Roman',serif;font-size:48px">Si</text>
<text x="629.0" y="462.0" style="font-family:'Liberation Serif','Times New Roman',serif;font-size:48px">F</text>
<text x="873.0" y="440.0" style="font-family:'Liberation Serif','Times New Roman',serif;font-size:48px">Al</text>
<text x="785.0" y="733.3" style="font-family:'Liberation Serif','Times New Roman',serif;font-size:48px">P</text>
<path d="M656.1 184.4 L707.0 201.5" stroke="#000" stroke-width="2.1"/><path d="M731.6 209.8 L703.7 204.9 L706.4 196.8 Z" fill="#000"/>
<path d="M664.6 427.1 L760.6 314.7" stroke="#000" stroke-width="2.1"/><path d="M777.5 294.9 L762.5 319.0 L756.1 313.4 Z" fill="#000"/>
<path d="M920.0 392.5 L965.1 331.5" stroke="#000" stroke-width="2.1"/><path d="M980.6 310.6 L967.4 335.6 L960.5 330.6 Z" fill="#000"/>
<path d="M830.2 707.2 L902.7 659.7" stroke="#000" stroke-width="2.1"/><path d="M924.5 645.5 L903.4 664.4 L898.7 657.3 Z" fill="#000"/></svg>
</body></html>
